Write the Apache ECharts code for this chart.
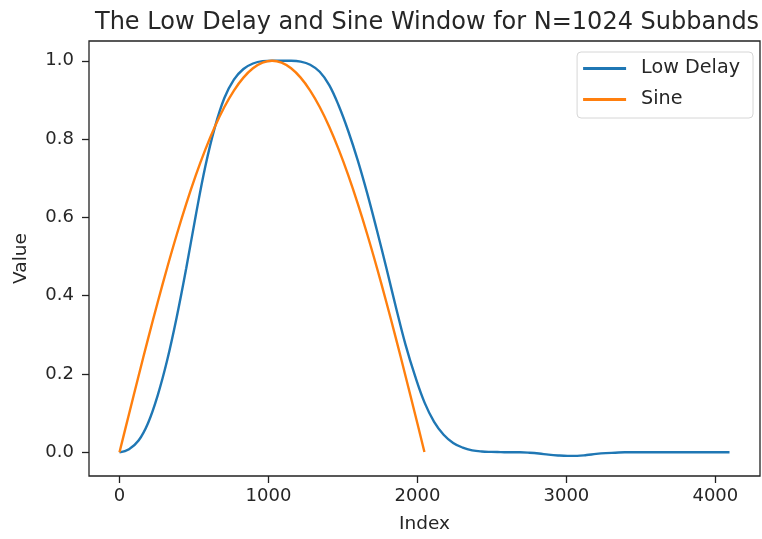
<!DOCTYPE html>
<html>
<head>
<meta charset="utf-8">
<script src="https://cdn.jsdelivr.net/npm/echarts@6/dist/echarts.min.js"></script>
<style>html,body{margin:0;padding:0;background:#fff}#c{width:762px;height:539px}</style>
</head>
<body>
<div id="c"></div>
<script>
var titleText = 'The Low Delay and Sine Window for N=1024 Subbands';
var seriesNames = ['Low Delay', 'Sine'];
var xTicks = [0, 1000, 2000, 3000, 4000];
var yTicks = [0, 0.2, 0.4, 0.6, 0.8, 1.0];

var lowDelayIndex = [0,64,128,192,256,320,384,448,512,576,640,704,768,832,896,960,
  1024,1088,1152,1216,1280,1344,1408,1472,1536,1600,1664,1728,1792,1856,1920,1984,
  2048,2112,2176,2240,2304,2368,2432,2496,2560,2624,2688,2752,2816,2880,2944,3008,
  3072,3136,3200,3264,3328,3392,3456,3520,3584,3648,3712,3776,3840,3904,3968,4032,4095];
var lowDelayValue = [0,0.008,0.03,0.075,0.145,0.235,0.345,0.47,0.605,0.73,0.83,0.905,0.952,0.979,0.993,0.999,
  1.0,1.0,1.0,0.998,0.99,0.972,0.938,0.885,0.82,0.745,0.66,0.567,0.47,0.37,0.275,0.195,
  0.127,0.078,0.045,0.024,0.012,0.005,0.002,0.001,0.0005,0,0,-0.001,-0.003,-0.006,-0.008,-0.009,
  -0.009,-0.007,-0.004,-0.002,-0.001,0,0,0,0,0,0,0,0,0,0,0,0];

var sineIndex = [0,64,128,192,256,320,384,448,512,576,640,704,768,832,896,960,
  1024,1088,1152,1216,1280,1344,1408,1472,1536,1600,1664,1728,1792,1856,1920,1984,2047];
var sineValue = [0,0.098,0.1951,0.2903,0.3827,0.4714,0.5556,0.6344,0.7071,0.773,0.8315,0.8819,0.9239,0.9569,0.9808,0.9952,
  1.0,0.9952,0.9808,0.9569,0.9239,0.8819,0.8315,0.773,0.7071,0.6344,0.5556,0.4714,0.3827,0.2903,0.1951,0.098,0.0008];

function pairs(xs, ys) { return xs.map(function (x, i) { return [x, ys[i]]; }); }

var font = 'DejaVu Sans';
var ink = '#262626';
var chart = echarts.init(document.getElementById('c'), null, {renderer: 'canvas'});
chart.setOption({
  animation: false,
  backgroundColor: '#fff',
  title: {
    text: titleText, left: 90, top: 6,
    textStyle: {fontFamily: font, fontSize: 24, fontWeight: 'normal', color: ink}
  },
  legend: {
    orient: 'vertical', right: 9, top: 52,
    data: seriesNames,
    icon: 'rect', itemWidth: 43, itemHeight: 3, itemGap: 12,
    padding: [7, 13, 9, 6],
    borderColor: '#d6d6d6', borderWidth: 1, borderRadius: 4,
    backgroundColor: '#fff',
    textStyle: {fontFamily: font, fontSize: 19.2, color: ink, padding: [0, 0, 0, 10]}
  },
  grid: {
    left: 89, right: 2, top: 41, bottom: 61,
    show: true, borderColor: '#222', borderWidth: 1.3, backgroundColor: 'transparent'
  },
  xAxis: {
    type: 'value', min: -204.75, max: 4299.75,
    name: 'Index', nameLocation: 'middle', nameGap: 39,
    nameTextStyle: {fontFamily: font, fontSize: 18.5, color: ink},
    splitLine: {show: false},
    axisLine: {show: false, onZero: false},
    axisTick: {show: true, length: 7, customValues: xTicks, lineStyle: {color: '#222', width: 1.3}},
    axisLabel: {customValues: xTicks, fontFamily: font, fontSize: 18, color: ink, margin: 11,
      formatter: function (v) { return String(v); }}
  },
  yAxis: {
    type: 'value', min: -0.0605, max: 1.0505,
    name: 'Value', nameLocation: 'middle', nameGap: 58,
    nameTextStyle: {fontFamily: font, fontSize: 18.5, color: ink},
    splitLine: {show: false},
    axisLine: {show: false, onZero: false},
    axisTick: {show: true, length: 7, customValues: yTicks, lineStyle: {color: '#222', width: 1.3}},
    axisLabel: {customValues: yTicks, fontFamily: font, fontSize: 18, color: ink, margin: 15,
      formatter: function (v) { return v.toFixed(1); }}
  },
  series: [
    {name: seriesNames[0], type: 'line', data: pairs(lowDelayIndex, lowDelayValue),
     showSymbol: false, symbol: 'none', smooth: 0.4,
     lineStyle: {color: '#1f77b4', width: 2.4}, itemStyle: {color: '#1f77b4'}},
    {name: seriesNames[1], type: 'line', data: pairs(sineIndex, sineValue),
     showSymbol: false, symbol: 'none', smooth: 0.4,
     lineStyle: {color: '#ff7f0e', width: 2.4}, itemStyle: {color: '#ff7f0e'}}
  ]
});
</script>
</body>
</html>
